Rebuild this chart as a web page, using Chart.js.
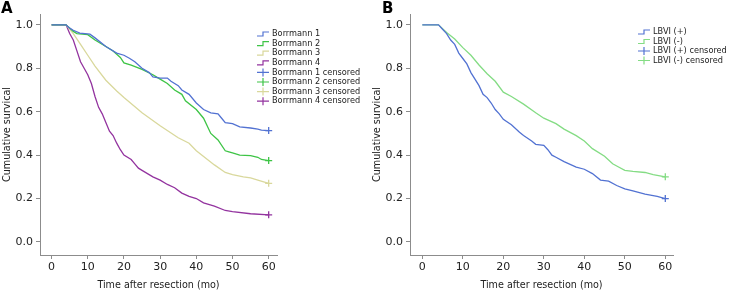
<!DOCTYPE html>
<html>
<head>
<meta charset="utf-8">
<script src="https://cdn.jsdelivr.net/npm/chart.js@4"></script>
<style>
  body { margin: 0; background: #fff; }
  .panel { position: absolute; top: 0; height: 296px; }
  .tag { position: absolute; font: bold 15px "DejaVu Sans", sans-serif; color: #000; }
</style>
</head>
<body>
<div class="panel" style="left:0;width:370px"><canvas id="chartA"></canvas></div>
<div class="panel" style="left:370px;width:364px"><canvas id="chartB"></canvas></div>
<div class="tag" style="left:1px;top:-1px">A</div>
<div class="tag" style="left:382px;top:-1px">B</div>
<script>
// months and survival
const xTicks = [0, 10, 20, 30, 40, 50, 60];
const yTicks = [0, 0.2, 0.4, 0.6, 0.8, 1.0];

const b1Time = [0, 4, 5, 6, 7.8, 10.6, 12, 15, 18, 20, 21.5, 23, 25, 27, 28, 30, 32, 33, 35, 36, 38, 40, 42, 44, 46, 47, 48, 50, 52, 55, 57, 58, 60];
const b1Surv = [1, 1, 0.985, 0.975, 0.962, 0.957, 0.94, 0.90, 0.87, 0.86, 0.846, 0.83, 0.80, 0.78, 0.76, 0.755, 0.755, 0.74, 0.72, 0.70, 0.68, 0.64, 0.61, 0.595, 0.59, 0.57, 0.55, 0.545, 0.53, 0.525, 0.52, 0.515, 0.513];

const b2Time = [0, 4, 6, 7, 10, 12, 15, 17, 19, 20, 22, 25, 28, 30, 32, 34, 36, 37, 40, 42, 44, 46, 48, 49, 50, 52, 55, 57, 58, 60];
const b2Surv = [1, 1, 0.97, 0.96, 0.955, 0.93, 0.90, 0.88, 0.85, 0.825, 0.815, 0.795, 0.77, 0.75, 0.73, 0.70, 0.68, 0.65, 0.61, 0.57, 0.50, 0.47, 0.42, 0.415, 0.41, 0.40, 0.398, 0.39, 0.38, 0.375];

const b3Time = [0, 4, 6, 8, 10, 12, 15, 18, 20, 25, 30, 35, 38, 40, 45, 48, 50, 53, 55, 57, 60];
const b3Surv = [1, 1, 0.96, 0.91, 0.86, 0.81, 0.745, 0.695, 0.665, 0.595, 0.535, 0.48, 0.455, 0.42, 0.355, 0.32, 0.31, 0.30, 0.295, 0.285, 0.27];

const b4Time = [0, 4, 5, 6, 7, 8, 9, 10, 11, 12, 13, 14, 15, 16, 17, 18, 19, 20, 22, 23, 24, 25, 28, 30, 32, 34, 36, 38, 40, 42, 45, 48, 50, 55, 60];
const b4Surv = [1, 1, 0.96, 0.93, 0.88, 0.83, 0.80, 0.77, 0.73, 0.67, 0.62, 0.59, 0.55, 0.51, 0.49, 0.455, 0.425, 0.40, 0.38, 0.36, 0.34, 0.33, 0.30, 0.285, 0.265, 0.25, 0.225, 0.21, 0.20, 0.18, 0.165, 0.145, 0.14, 0.13, 0.125];

const posTime = [0, 4, 5, 6, 7, 8, 9, 10, 11, 12, 13, 14, 15, 16, 17, 18, 19, 20, 22, 24, 25, 27, 28, 30, 31, 32, 33, 35, 38, 40, 42, 44, 46, 48, 50, 52, 55, 58, 60];
const posSurv = [1, 1, 0.98, 0.96, 0.93, 0.91, 0.87, 0.845, 0.82, 0.78, 0.75, 0.72, 0.68, 0.665, 0.64, 0.61, 0.59, 0.565, 0.54, 0.505, 0.49, 0.465, 0.45, 0.445, 0.425, 0.40, 0.39, 0.37, 0.345, 0.335, 0.315, 0.285, 0.28, 0.26, 0.245, 0.235, 0.22, 0.21, 0.20];

const negTime = [0, 4, 6, 8, 10, 12, 14, 16, 18, 20, 22, 25, 28, 30, 33, 35, 38, 40, 42, 45, 47, 48, 50, 52, 55, 57, 60];
const negSurv = [1, 1, 0.965, 0.935, 0.895, 0.86, 0.815, 0.775, 0.74, 0.69, 0.67, 0.635, 0.595, 0.57, 0.545, 0.52, 0.49, 0.465, 0.43, 0.395, 0.36, 0.35, 0.33, 0.325, 0.32, 0.31, 0.30];

const seriesA = [
  { label: 'Borrmann 1', time: b1Time, surv: b1Surv, color: '#5272d2' },
  { label: 'Borrmann 2', time: b2Time, surv: b2Surv, color: '#3ec446' },
  { label: 'Borrmann 3', time: b3Time, surv: b3Surv, color: '#d9d89c' },
  { label: 'Borrmann 4', time: b4Time, surv: b4Surv, color: '#93339f' }
];
const seriesB = [
  { label: 'LBVI (+)', time: posTime, surv: posSurv, color: '#5272d2' },
  { label: 'LBVI (-)', time: negTime, surv: negSurv, color: '#84dc84' }
];

const axisColor = '#8c8c8c';
const tickFont = { family: 'DejaVu Sans', size: 11 };
const titleFont = { family: 'DejaVu Sans', size: 9.6 };

function buildDatasets(series) {
  const lines = series.map(s => ({
    type: 'line',
    label: s.label,
    data: s.time.map((t, i) => ({ x: t, y: s.surv[i] })),
    borderColor: s.color,
    borderWidth: 1.3,
    pointRadius: 0,
    fill: false,
    legendKind: 'line'
  }));
  const censored = series.map(s => ({
    type: 'scatter',
    label: s.label + ' censored',
    data: [{ x: s.time[s.time.length - 1], y: s.surv[s.surv.length - 1] }],
    borderColor: s.color,
    backgroundColor: s.color,
    pointStyle: 'cross',
    pointRadius: 3.5,
    borderWidth: 1.3,
    legendKind: 'cross'
  }));
  return lines.concat(censored);
}

// legend drawn by hand to get the SPSS look
function legendPlugin(cfg) {
  return {
    id: 'kmLegend',
    afterDraw(chart) {
      const ctx = chart.ctx;
      ctx.save();
      ctx.font = '8.2px "DejaVu Sans"';
      ctx.textBaseline = 'middle';
      ctx.fillStyle = '#222';
      chart.data.datasets.forEach((ds, i) => {
        const y = cfg.top + i * cfg.step;
        const x = cfg.left;
        ctx.strokeStyle = ds.borderColor;
        ctx.lineWidth = 1.2;
        ctx.beginPath();
        if (ds.legendKind === 'line') {
          ctx.moveTo(x, y + 2);
          ctx.lineTo(x + 6, y + 2);
          ctx.lineTo(x + 6, y - 2);
          ctx.lineTo(x + 12, y - 2);
        } else {
          ctx.moveTo(x, y);
          ctx.lineTo(x + 12, y);
          ctx.moveTo(x + 6, y - 4);
          ctx.lineTo(x + 6, y + 4);
        }
        ctx.stroke();
        ctx.fillText(ds.label, x + 15, y);
      });
      ctx.restore();
    }
  };
}

function makeChart(id, series, xMin, xMax, padRight, legendCfg) {
  new Chart(document.getElementById(id), {
    data: { datasets: buildDatasets(series) },
    plugins: [legendPlugin(legendCfg)],
    options: {
      responsive: true,
      maintainAspectRatio: false,
      animation: false,
      layout: { padding: { left: 0, right: padRight, top: 14, bottom: 0 } },
      plugins: { legend: { display: false }, tooltip: { enabled: false } },
      scales: {
        x: {
          type: 'linear',
          min: xMin,
          max: xMax,
          afterBuildTicks: s => { s.ticks = xTicks.map(v => ({ value: v })); },
          afterFit: s => { s.height = 41; },
          ticks: { color: '#222', font: tickFont, padding: 2, maxRotation: 0 },
          grid: { display: true, drawOnChartArea: false, drawTicks: true, tickLength: 4, color: axisColor },
          border: { display: true, color: axisColor, width: 1 },
          title: { display: true, text: 'Time after resection (mo)', color: '#222', font: titleFont, padding: { top: 2, bottom: 5 } }
        },
        y: {
          type: 'linear',
          min: -0.06,
          max: 1.05,
          afterBuildTicks: s => { s.ticks = yTicks.map(v => ({ value: v })); },
          afterFit: s => { s.width = 40; },
          ticks: { color: '#222', font: tickFont, padding: 3, callback: v => v.toFixed(1) },
          grid: { display: true, drawOnChartArea: false, drawTicks: true, tickLength: 4, color: axisColor },
          border: { display: true, color: axisColor, width: 1 },
          title: { display: true, text: 'Cumulative survical', color: '#222', font: titleFont, padding: { top: 2, bottom: 2 } }
        }
      }
    }
  });
}

makeChart('chartA', seriesA, -3.2, 62.3, 93, { left: 257, top: 34, step: 9.6 });
makeChart('chartB', seriesB, -3.04, 61.9, 61, { left: 268, top: 32, step: 9.5 });
</script>
</body>
</html>
